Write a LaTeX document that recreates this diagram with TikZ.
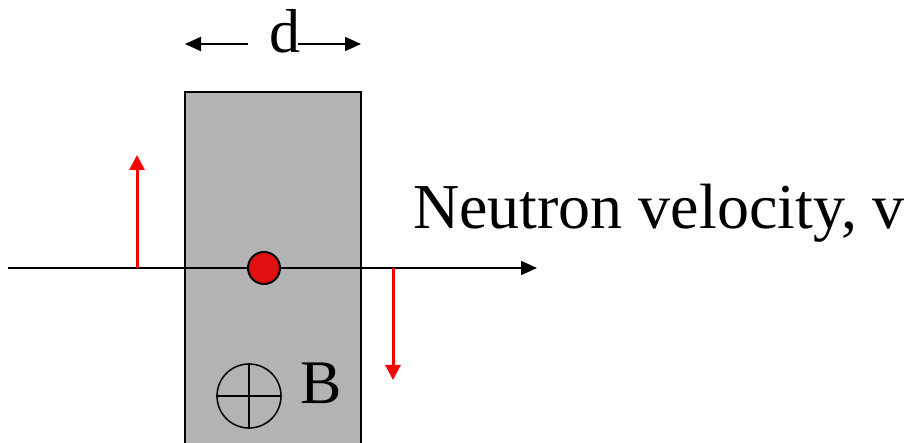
\documentclass[tikz,border=0pt]{standalone}
\usepackage{fontspec}
\setmainfont{Liberation Serif}
\usetikzlibrary{arrows.meta}
\definecolor{slab}{HTML}{B3B3B3}
\definecolor{neutronred}{HTML}{E01010}
\tikzset{
  blk/.style={line width=2pt, -{Triangle[length=16pt,width=14pt]}},
  redarr/.style={draw=red, line width=3pt, -{Triangle[length=15pt,width=15pt]}},
  lbl/.style={font=\fontsize{62}{62}\selectfont, inner sep=0pt},
}
\begin{document}
\begin{tikzpicture}[x=1pt,y=-1pt]
\useasboundingbox (0,0) rectangle (906,443);
% slab
\draw[fill=slab, line width=2pt] (185,470) -- (185,92) -- (361,92) -- (361,470);
% d label and arrows
\node[lbl, anchor=base] (d) at (285,53) {d};
\coordinate (dl) at (185,44);
\coordinate (dr) at (361,44);
\coordinate (dlstart) at (248,44);
\coordinate (drstart) at (298,44);
\draw[blk] (dlstart) -- (dl);
\draw[blk] (drstart) -- (dr);
% axis
\coordinate (axstart) at (8,268);
\coordinate (axend) at (537,268);
\draw[blk] (axstart) -- (axend);
% red arrows
\coordinate (upbase) at (137,268);
\coordinate (uptip) at (137,155);
\coordinate (dnbase) at (393,268);
\coordinate (dntip) at (393,380);
\draw[redarr] (upbase) -- (uptip);
\draw[redarr] (dnbase) -- (dntip);
% neutron
\node[circle, draw=black, line width=2pt, fill=neutronred, minimum size=32pt, inner sep=0pt] (n) at (264,268) {};
% B field into page
\node[circle, draw=black, line width=1.5pt, minimum size=64pt, inner sep=0pt] (bc) at (249,396) {};
\draw[line width=1.5pt] (bc.north) -- (bc.south);
\draw[line width=1.5pt] (bc.west) -- (bc.east);
\node[lbl, anchor=base west] (B) at (300,404) {B};
% velocity label
\node[lbl, font=\fontsize{64}{64}\selectfont, anchor=base west] (v) at (413,229) {Neutron velocity, v};
\end{tikzpicture}
\end{document}
